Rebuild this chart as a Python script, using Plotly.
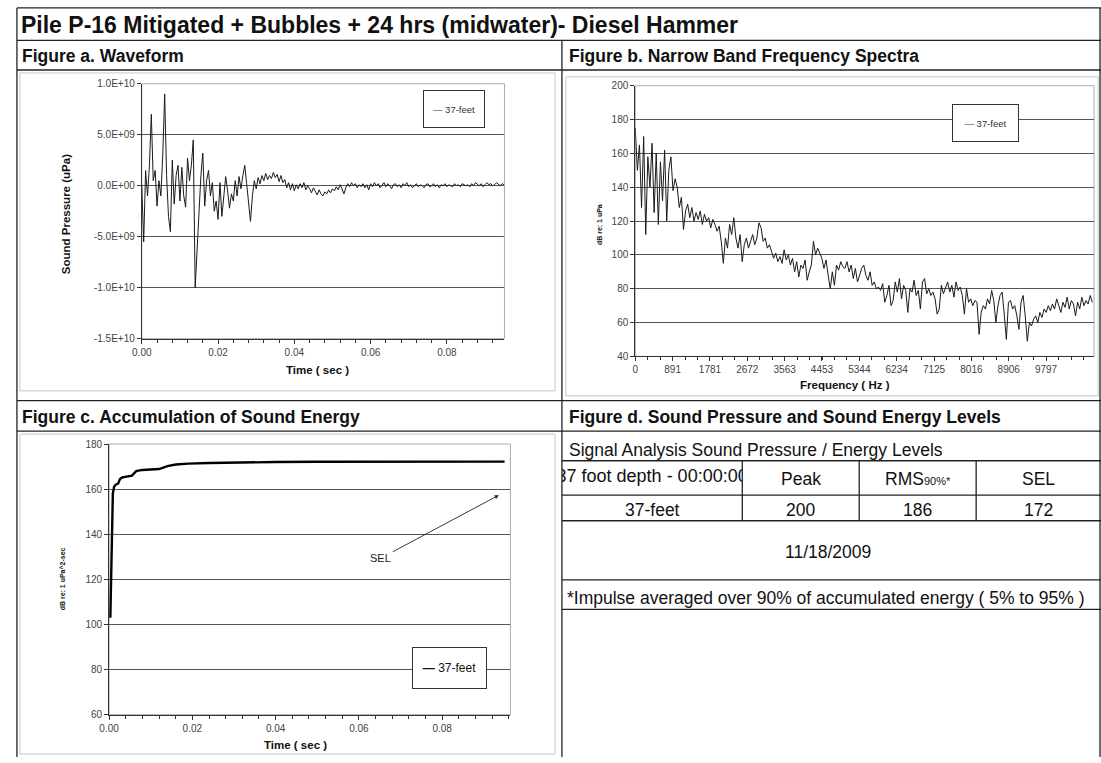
import plotly.graph_objects as go

# ---------------- data ----------------
WAVE_DT = 0.0005          # s between waveform samples
wave_values = [            # sound pressure, units of 1E9 uPa
    0.0, -5.5, 1.5, -1.0, 2.0, 7.0, 0.5, 1.5, -2.0, 0.5,
    -1.0, 3.0, 9.0, 1.0, -3.0, -4.5, 2.5, -1.8, 1.0, 2.0,
    -1.5, 1.8, -1.0, -2.1, 2.7, 0.5, 2.0, 4.5, -10.0, -5.8,
    -3.0, 1.0, 3.2, -2.0, 0.5, 1.5, -1.0, 0.3, -2.5, -1.5,
    -3.3, 0.3, -3.0, -1.0, 0.9, -0.5, -2.2, -0.8, -1.5, 0.5,
    -1.0, 0.9, -0.3, 1.0, 2.0, 0.2, -1.5, -3.5, -1.0, 0.5,
    -0.3, 0.8, 0.2, 1.0, 0.5, 1.2, 0.6, 1.0, 0.7, 1.3,
    0.8, 1.1, 0.4, 1.0, 0.3, 0.6, -0.2, 0.3, -0.4, 0.2,
    -0.5, 0.1, -0.3, 0.2, -0.2, 0.3, -0.4, 0.0, -0.3, -0.7,
    -0.2, -0.5, -0.9, -0.4, -0.8, -1.0, -0.6, -0.8, -0.4, -0.7,
    -0.3, -0.5, -0.1, -0.4, 0.1, -0.3, -0.8, -0.2, 0.2, -0.1,
    0.3, 0.0, 0.2, -0.2, 0.1, -0.1, 0.2, -0.2, 0.1, -0.4,
    0.2, -0.1, 0.3, 0.0, 0.2, -0.2, 0.1, 0.3, -0.1, 0.2,
    0.0, -0.3, 0.1, 0.2, -0.1, 0.1, -0.2, 0.2, 0.0, 0.3,
    -0.1, 0.1, -0.2, 0.0, 0.2, -0.1, 0.1, 0.0, -0.2, 0.1,
    0.2, -0.1, 0.0, 0.2, -0.1, 0.1, -0.2, 0.1, 0.0, 0.2,
    -0.1, 0.1, 0.0, -0.1, 0.2, 0.0, 0.1, -0.1, 0.2, 0.1,
    0.0, 0.1, -0.1, 0.2, 0.0, 0.3, 0.1, 0.0, 0.2, -0.1,
    0.1, 0.3, 0.1, 0.2, 0.0, 0.1, 0.3, 0.1, 0.0, 0.2,
    0.1,
]

SPEC_DF = 50              # Hz between spectrum bins
spec_values = [           # dB re 1 uPa
    175, 150, 165, 128, 170, 112, 158, 140, 166, 125,
    160, 118, 155, 132, 162, 120, 150, 158, 138, 145,
    140, 128, 134, 115, 126, 130, 122, 128, 120, 125,
    121, 126, 118, 124, 120, 122, 116, 121, 118, 114,
    117, 108, 95, 110, 104, 118, 112, 122, 110, 104,
    112, 96, 106, 110, 104, 108, 112, 106, 110, 119,
    116, 108, 110, 104, 106, 102, 98, 101, 96, 99,
    95, 103, 97, 100, 94, 98, 90, 96, 87, 94,
    92, 97, 85, 90, 94, 108, 100, 104, 101, 98,
    92, 97, 88, 80, 90, 82, 94, 91, 96, 93,
    92, 96, 90, 94, 86, 92, 84, 88, 92, 94,
    88, 85, 90, 82, 84, 80, 81, 79, 83, 72,
    76, 82, 70, 73, 84, 78, 86, 74, 82, 79,
    66, 80, 78, 85, 76, 79, 68, 84, 86, 77,
    80, 76, 78, 74, 65, 68, 82, 77, 80, 84,
    78, 82, 75, 84, 79, 81, 76, 65, 80, 72,
    74, 70, 73, 72, 53, 66, 70, 68, 74, 71,
    79, 73, 60, 70, 76, 78, 65, 50, 72, 73,
    68, 70, 64, 56, 72, 76, 64, 49, 60, 58,
    62, 64, 60, 66, 63, 68, 66, 70, 67, 71,
    68, 74, 70, 66, 72, 69, 75, 68, 73, 71,
    64, 72, 68, 75, 70, 73, 71, 76, 72,
]

sel_time = [0.0003, 0.0005, 0.0007, 0.0009, 0.0012, 0.0016, 0.0022, 0.0026, 0.0032,
            0.0045, 0.0055, 0.006, 0.0065, 0.008, 0.010, 0.012, 0.013, 0.014, 0.016,
            0.019, 0.024, 0.03, 0.04, 0.05, 0.07, 0.095]
sel_db = [103, 120, 145, 158, 161, 162, 162.5, 164.5, 165.2,
          165.6, 166.0, 167.0, 168.0, 168.5, 168.7, 168.9, 169.5, 170.2, 170.9,
          171.3, 171.6, 171.8, 172.0, 172.1, 172.2, 172.2]

wave_ytick_vals = [10, 5, 0, -5, -10, -15]
wave_ytick_text = ["1.0E+10", "5.0E+09", "0.0E+00", "-5.0E+09", "-1.0E+10", "-1.5E+10"]
spec_xtick_vals = [0, 891, 1781, 2672, 3563, 4453, 5344, 6234, 7125, 8016, 8906, 9797]
spec_xtick_text = [str(v) for v in spec_xtick_vals]

series_name = "37-feet"
table_title = "Signal Analysis Sound Pressure / Energy Levels"
table_header = ["37 foot depth - 00:00:00", "Peak",
                "RMS<span style='font-size:11px'>90%*</span>", "SEL"]
table_row = ["37-feet", "200", "186", "172"]
table_date = "11/18/2009"
table_note = "*Impulse averaged over 90% of accumulated energy ( 5% to 95% )"

wave_time = [i * WAVE_DT for i in range(len(wave_values))]
spec_freq = [i * SPEC_DF for i in range(len(spec_values))]

# ---------------- layout helpers ----------------
W, H = 1101, 763
FONT = "Liberation Sans, Arial, sans-serif"


def px(x):
    return x / W


def py(y):
    return 1 - y / H


fig = go.Figure()
fig.add_trace(go.Scatter(x=wave_time, y=wave_values, mode="lines", name=series_name,
                         line=dict(color="#1a1a1a", width=1), xaxis="x", yaxis="y",
                         showlegend=False))
fig.add_trace(go.Scatter(x=spec_freq, y=spec_values, mode="lines", name=series_name,
                         line=dict(color="#1a1a1a", width=1), xaxis="x2", yaxis="y2",
                         showlegend=False))
fig.add_trace(go.Scatter(x=sel_time, y=sel_db, mode="lines", name=series_name,
                         line=dict(color="#000", width=2.4), xaxis="x3", yaxis="y3",
                         showlegend=False))
# first header cell of the table: text clipped by its cell
fig.add_trace(go.Scatter(x=[0.5], y=[0.5], mode="text", text=[table_header[0]],
                         textposition="middle center", cliponaxis=True,
                         textfont=dict(size=18, family=FONT, color="#111"),
                         xaxis="x4", yaxis="y4", showlegend=False, hoverinfo="skip"))

tickfont = dict(size=10, color="#444", family=FONT)


def xax(d0, d1, anchor, **kw):
    base = dict(domain=[px(d0), px(d1)], anchor=anchor, showgrid=False, zeroline=False,
                showline=True, linecolor="#333", linewidth=1, ticks="outside",
                ticklen=4, tickcolor="#333", tickfont=tickfont)
    base.update(kw)
    return base


def yax(t, b, anchor, **kw):
    base = dict(domain=[py(b), py(t)], anchor=anchor, showgrid=True, gridcolor="#555",
                gridwidth=1, zeroline=False, showline=True, linecolor="#333",
                linewidth=1, ticks="outside", ticklen=4, tickcolor="#333",
                tickfont=tickfont)
    base.update(kw)
    return base


minor_a = dict(ticks="outside", ticklen=3, tickcolor="#333", dtick=0.004, tick0=0,
               showgrid=False)

fig.update_layout(
    width=W, height=H, margin=dict(l=0, r=0, t=0, b=0),
    paper_bgcolor="white", plot_bgcolor="rgba(0,0,0,0)",
    font=dict(family=FONT, color="#111"),
    xaxis=xax(133, 499, "y", range=[0, 0.0951], dtick=0.02, tick0=0,
              tickformat=".2f", minor=minor_a),
    yaxis=yax(79, 338, "x", range=[-15, 10], tickmode="array",
              tickvals=wave_ytick_vals, ticktext=wave_ytick_text),
    xaxis2=xax(631, 1094, "y2", range=[0, 10942], tickmode="array",
               tickvals=spec_xtick_vals, ticktext=spec_xtick_text,
               minor=dict(ticks="outside", ticklen=3, tickcolor="#333",
                          tickmode="linear", dtick=297, tick0=0, showgrid=False)),
    yaxis2=yax(81, 356, "x2", range=[40, 200], dtick=20, tick0=40),
    xaxis3=xax(100, 505, "y3", range=[0, 0.0964], dtick=0.02, tick0=0,
               tickformat=".2f", minor=minor_a),
    yaxis3=yax(445, 720, "x3", range=[60, 180], dtick=20, tick0=60),
    xaxis4=dict(domain=[px(557), px(739)], anchor="y4", range=[0, 1], visible=False,
                fixedrange=True),
    yaxis4=dict(domain=[py(497), py(462)], anchor="x4", range=[0, 1], visible=False,
                fixedrange=True),
)

# ---------------- frame lines ----------------
shapes = []


def hline(y, x0, x1, color="#222", w=1.3):
    shapes.append(dict(type="line", xref="paper", yref="paper", x0=px(x0), x1=px(x1),
                       y0=py(y), y1=py(y), line=dict(color=color, width=w), layer="above"))


def vline(x, y0, y1, color="#222", w=1.3):
    shapes.append(dict(type="line", xref="paper", yref="paper", x0=px(x), x1=px(x),
                       y0=py(y0), y1=py(y1), line=dict(color=color, width=w), layer="above"))


def rect(x0, y0, x1, y1, color="#bbb", w=1, layer="below"):
    shapes.append(dict(type="rect", xref="paper", yref="paper", x0=px(x0), x1=px(x1),
                       y0=py(y1), y1=py(y0), line=dict(color=color, width=w), layer=layer))


# chart-area and plot-area borders
rect(10, 68, 550, 391, color="#c8c8c8")
rect(561, 72, 1098, 396, color="#c8c8c8")
rect(10, 435, 550, 760, color="#c8c8c8")
rect(133, 79, 499, 338, color="#aaa")
rect(631, 81, 1094, 356, color="#aaa")
rect(100, 445, 505, 720, color="#aaa")

hline(2, 7, 1101)
vline(7, 2, 763)
vline(1100, 2, 763)
hline(35, 7, 1101)
hline(65, 7, 1101)
vline(557, 35, 763)
hline(401, 7, 1101)
hline(432, 7, 1101)
for y in (462, 497, 523, 583, 613):
    hline(y, 557, 1101)
for x in (739, 857, 975):
    vline(x, 462, 523)

fig.update_layout(shapes=shapes)

# ---------------- text ----------------
ann = []


def text(x, y, s, size, bold=False, xanchor="left", color="#111", angle=0, **kw):
    d = dict(xref="paper", yref="paper", x=px(x), y=py(y), xanchor=xanchor,
             yanchor="middle", showarrow=False, textangle=angle,
             text=f"<b>{s}</b>" if bold else s,
             font=dict(size=size, family=FONT, color=color))
    d.update(kw)
    ann.append(d)


text(9, 19, "Pile P-16 Mitigated + Bubbles + 24 hrs (midwater)- Diesel Hammer", 23, bold=True)
text(10, 51, "Figure a. Waveform", 17.5, bold=True)
text(562, 51, "Figure b. Narrow Band Frequency Spectra", 17.5, bold=True)
text(10, 418, "Figure c. Accumulation of Sound Energy", 17.5, bold=True)
text(562, 418, "Figure d. Sound Pressure and Sound Energy Levels", 17.5, bold=True)

# axis titles
text(310, 370, "Time ( sec )", 11.5, bold=True, xanchor="center")
text(56, 211, "Sound Pressure (uPa)", 11.5, bold=True, xanchor="center", angle=-90)
text(843, 385, "Frequency ( Hz )", 11.5, bold=True, xanchor="center")
text(595, 222, "dB re: 1 uPa", 7, bold=True, xanchor="center", angle=-90)
text(288, 751, "Time ( sec )", 11.5, bold=True, xanchor="center")
text(53, 582, "dB re: 1 uPa^2-sec", 7, bold=True, xanchor="center", angle=-90)

# legend boxes
legend_style = dict(bordercolor="#333", borderwidth=1, borderpad=1, bgcolor="white",
                    align="center")
text(448, 105, "— " + series_name, 9.5, xanchor="center", color="#333",
     width=58, height=34, **legend_style)
text(984, 119, "— " + series_name, 9.5, xanchor="center", color="#333",
     width=63, height=34, **legend_style)
text(444, 673, "<b>—</b> " + series_name, 12, xanchor="center", color="#111",
     width=71, height=38, **legend_style)

# SEL arrow
ann.append(dict(xref="x3", yref="y3", x=0.0936, y=157.3, ax=-118, ay=63,
                axref="pixel", ayref="pixel", text="SEL", showarrow=True,
                arrowhead=2, arrowsize=0.9, arrowwidth=0.9, arrowcolor="#222",
                font=dict(size=11, family=FONT, color="#222")))

# table
text(562, 451, table_title, 17.5)
centers = [648, 798, 916, 1038]
for cx, s in zip(centers[1:], table_header[1:]):
    text(cx, 481, s, 17.5, xanchor="center")
for cx, s in zip(centers, table_row):
    text(cx, 512, s, 17.5, xanchor="center")
text(825, 555, table_date, 17.5, xanchor="center")
text(560, 601, table_note, 17.5)

fig.update_layout(annotations=ann)
fig.write_html(
    "out.html",
    config={"displayModeBar": False},
    post_script="document.body.style.margin='0';document.body.style.overflow='hidden';",
)
